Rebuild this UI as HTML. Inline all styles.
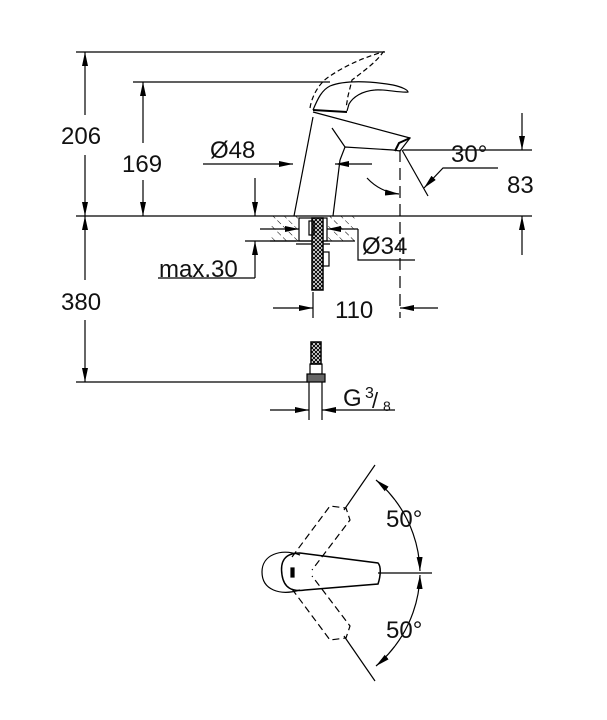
<!DOCTYPE html>
<html><head><style>html,body{margin:0;padding:0;background:#fff}svg{display:block}text{font-family:"Liberation Sans",sans-serif;fill:#111}</style></head>
<body>
<svg width="607" height="720" viewBox="0 0 607 720" xmlns="http://www.w3.org/2000/svg">
<defs>
<marker id="a" viewBox="0 0 14 6" refX="14" refY="3" markerWidth="14" markerHeight="6" orient="auto" markerUnits="userSpaceOnUse"><path d="M0,0L14,3L0,6z" fill="#000"/></marker>
<pattern id="h" width="8" height="8" patternUnits="userSpaceOnUse" patternTransform="rotate(-45)"><line x1="0" y1="0" x2="0" y2="8" stroke="#000" stroke-width="1" stroke-dasharray="5,3"/></pattern>
<pattern id="x" width="4" height="4" patternUnits="userSpaceOnUse"><rect width="4" height="4" fill="#fff"/><path d="M0,0L4,4M4,0L0,4" stroke="#000" stroke-width="1"/></pattern>
</defs>
<g stroke="#000" stroke-width="1.2" fill="none">
<line x1="76" y1="52" x2="385" y2="52"/>
<line x1="133" y1="82" x2="330" y2="82"/>
<line x1="76" y1="216" x2="532" y2="216"/>
<line x1="76" y1="382" x2="308" y2="382"/>
<line x1="85" y1="115" x2="85" y2="52" marker-end="url(#a)"/>
<line x1="85" y1="155" x2="85" y2="216" marker-end="url(#a)"/>
<line x1="85" y1="280" x2="85" y2="216" marker-end="url(#a)"/>
<line x1="85" y1="320" x2="85" y2="382" marker-end="url(#a)"/>
<line x1="143" y1="143" x2="143" y2="82" marker-end="url(#a)"/>
<line x1="143" y1="180" x2="143" y2="216" marker-end="url(#a)"/>
<path d="M294,216 L313,117 M333,216 L340,160"/>
<path d="M313,112 L410,138 L400,151 L393,150 L345,147 L340,160"/>
<path d="M332,128 L345,147"/>
<path d="M395,151 L399,143 L410,138" stroke-width="2"/>
<path d="M313,110 C318,98 322,90 330,86 C345,80 370,81 393,85 C402,87 408,90 408,92 C400,93 385,89 375,90 C362,91 353,97 349,104 L347,111"/>
<path d="M313,110 L347,112" stroke-width="2"/>
<path d="M310,108 C312,95 320,82 330,76 C345,66 362,58 383,52 C378,60 368,68 352,80 L348,96 L346,108" stroke-dasharray="5,3"/>
<line x1="203" y1="164" x2="293" y2="164" marker-end="url(#a)"/>
<line x1="372" y1="164" x2="335" y2="164" marker-end="url(#a)"/>
<line x1="255" y1="178" x2="255" y2="216" marker-end="url(#a)"/>
<line x1="255" y1="278" x2="255" y2="241" marker-end="url(#a)"/>
<line x1="158" y1="278" x2="255" y2="278"/>
<line x1="245" y1="241" x2="296" y2="241"/>
<rect x="270" y="216" width="29" height="25" fill="url(#h)" stroke="none"/>
<rect x="327" y="216" width="28" height="25" fill="url(#h)" stroke="none"/>
<line x1="270" y1="241" x2="355" y2="241"/>
<rect x="299" y="218" width="28" height="23"/>
<line x1="296" y1="244" x2="330" y2="244"/>
<line x1="260" y1="229" x2="299" y2="229" marker-end="url(#a)"/>
<line x1="358" y1="229" x2="327" y2="229" marker-end="url(#a)"/>
<path d="M358,229 L358,260 L415,260"/>
<rect x="312" y="218" width="11" height="72" fill="url(#x)" stroke-width="1.5"/>
<rect x="323" y="252" width="6" height="14"/>
<rect x="309" y="221" width="5" height="14"/>
<line x1="273" y1="308" x2="313" y2="308" marker-end="url(#a)"/>
<line x1="313" y1="292" x2="313" y2="318"/>
<line x1="438" y1="308" x2="400" y2="308" marker-end="url(#a)"/>
<line x1="400" y1="150" x2="400" y2="318" stroke-dasharray="12,6"/>
<line x1="403" y1="150" x2="532" y2="150"/>
<line x1="522" y1="113" x2="522" y2="150" marker-end="url(#a)"/>
<line x1="522" y1="255" x2="522" y2="216" marker-end="url(#a)"/>
<line x1="402" y1="150" x2="428" y2="196"/>
<path d="M367,178 Q380,192 399,194" marker-end="url(#a)"/>
<path d="M498,168 L443,168 L424,188" marker-end="url(#a)"/>
<rect x="311" y="342" width="10" height="22" fill="url(#x)" stroke-width="1.5"/>
<rect x="310" y="364" width="12" height="10"/>
<rect x="307" y="374" width="18" height="8" fill="#666"/>
<line x1="309" y1="382" x2="309" y2="420"/>
<line x1="322" y1="382" x2="322" y2="420"/>
<line x1="270" y1="410" x2="309" y2="410" marker-end="url(#a)"/>
<line x1="395" y1="410" x2="322" y2="410" marker-end="url(#a)"/>
<path d="M300,555 C280,548 262,555 262,572 C262,590 280,596 300,590"/>
<path d="M300,553 C284,553 280,562 282,575 C284,588 292,592 305,590 C330,588 355,586 378,584 C381,575 381,566 378,563 C355,560 330,557 300,553 Z" stroke-width="1.5"/>
<rect x="291" y="568" width="3" height="9" fill="#000"/>
<line x1="378" y1="573" x2="432" y2="573"/>
<line x1="375" y1="465" x2="344" y2="510"/>
<line x1="375" y1="681" x2="344" y2="636"/>
<g stroke-dasharray="7,4">
<path d="M292,557 L330,506 L346,508 L350,520 L312,570"/>
<path d="M292,589 L330,640 L346,638 L350,626 L312,576"/>
</g>
<path d="M395,500 A123,123 0 0 1 420,571" marker-end="url(#a)"/>
<path d="M395,646 A123,123 0 0 0 420,575" marker-end="url(#a)"/>
<path d="M395,500 A123,123 0 0 0 376,480" marker-end="url(#a)"/>
<path d="M395,646 A123,123 0 0 1 376,666" marker-end="url(#a)"/>
</g>
<g font-size="24">
<text x="61" y="144">206</text>
<text x="122" y="172">169</text>
<text x="61" y="310">380</text>
<text x="210" y="158">Ø48</text>
<text x="362" y="254">Ø34</text>
<text x="159" y="277">max.30</text>
<text x="335" y="318">110</text>
<text x="451" y="162">30°</text>
<text x="507" y="193">83</text>
<text x="343" y="406">G</text>
<text x="365" y="398" font-size="16">3</text>
<text x="372" y="408" font-size="22">/</text>
<text x="383" y="411" font-size="14">8</text>
<text x="386" y="527">50°</text>
<text x="386" y="638">50°</text>
</g>
</svg>
</body></html>
